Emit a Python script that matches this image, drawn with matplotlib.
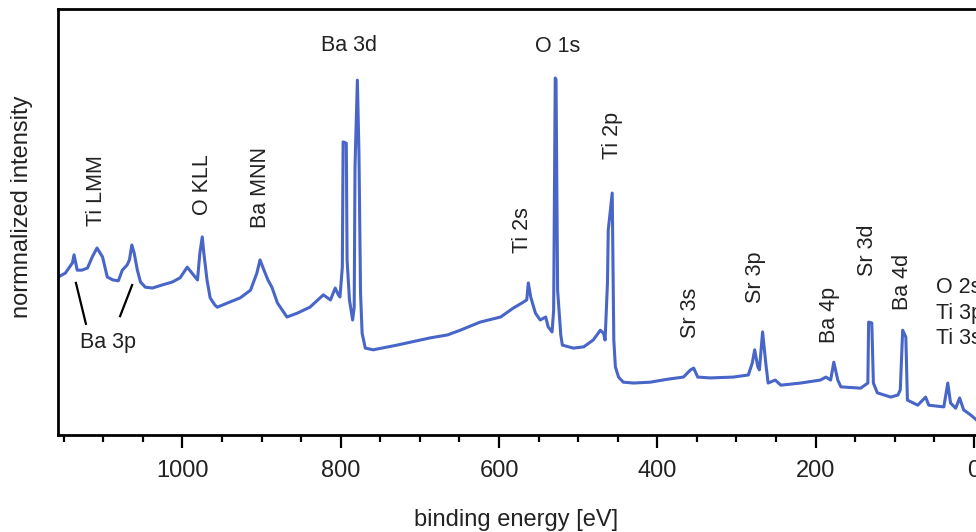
import matplotlib
matplotlib.use("Agg")
import matplotlib.pyplot as plt
from matplotlib.ticker import MultipleLocator

# survey spectrum: binding energy [eV] and intensity (0..100 = axis height)
energy = [1157, 1148, 1139, 1137, 1133, 1127, 1120, 1114, 1108, 1101, 1095, 1088, 1081,
          1076, 1070, 1067, 1064, 1061, 1057, 1053, 1047, 1038, 1026, 1013, 1003, 994,
          988, 981, 978, 975, 973, 969, 965, 959, 956, 943, 927, 914, 906, 902, 897, 892,
          887, 880, 868, 855, 839, 822, 813, 807, 803, 801, 798, 797, 793, 792, 789, 785,
          783, 782, 779, 777, 775, 773, 769, 759, 729, 687, 665, 649, 624, 598, 582, 571,
          565, 563, 560, 554, 548, 541, 538, 533, 531, 529, 528, 526, 522, 520, 506, 493,
          481, 472, 468, 466, 463, 462, 457, 455, 453, 449, 443, 430, 409, 387, 367, 358,
          354, 349, 333, 304, 285, 280, 277, 273, 271, 267, 263, 260, 251, 244, 219, 194,
          187, 181, 177, 172, 168, 143, 134, 133, 129, 127, 122, 105, 96, 93, 90, 86, 84,
          71, 61, 57, 38, 33, 29.5, 23, 18, 13, 4, -3.4]
intensity = [37.1, 38.0, 40.4, 42.3, 38.7, 38.7, 39.2, 41.8, 43.9, 41.8, 37.1, 36.4, 36.2,
             38.7, 39.9, 41.1, 44.6, 42.7, 38.7, 35.9, 34.7, 34.5, 35.2, 35.9, 36.9, 39.4,
             38.0, 36.4, 42.7, 46.5, 42.7, 36.4, 32.2, 30.5, 30.0, 31.0, 32.2, 34.0, 38.0,
             41.1, 38.7, 36.4, 34.7, 31.0, 27.7, 28.6, 30.0, 32.9, 31.7, 34.5, 32.9, 32.4,
             39.4, 68.8, 68.5, 41.1, 31.7, 27.0, 30.0, 62.9, 83.3, 66.2, 33.3, 23.9, 20.4,
             20.0, 21.1, 22.8, 23.5, 24.6, 26.5, 27.7, 29.8, 31.0, 31.7, 35.7, 32.4, 28.6,
             27.0, 27.7, 25.4, 24.2, 29.3, 83.8, 83.5, 34.0, 23.5, 21.1, 20.4, 20.7, 22.3,
             24.6, 23.9, 22.3, 35.7, 48.1, 56.8, 22.3, 16.0, 13.6, 12.4, 12.2, 12.4, 13.1,
             13.6, 15.3, 15.7, 13.6, 13.4, 13.6, 14.1, 16.9, 20.0, 16.0, 15.3, 24.2, 16.9,
             12.2, 12.9, 11.7, 12.2, 12.9, 13.6, 12.9, 17.1, 12.9, 11.3, 11.0, 12.2, 26.5,
             26.3, 12.2, 9.9, 8.9, 9.4, 10.6, 24.6, 23.0, 8.2, 7.0, 8.9, 7.0, 6.6, 12.2,
             7.5, 6.3, 8.7, 5.9, 4.7, 3.5]

# peak labels: text, energy, height, rotation
peak_names = ["Ti LMM", "O KLL", "Ba MNN", "Ba 3d", "O 1s", "Ti 2s", "Ti 2p",
              "Sr 3s", "Sr 3p", "Ba 4p", "Sr 3d", "Ba 4d"]
peak_x = [1108, 975, 902, 789, 526, 570.5, 457, 358, 276, 182, 134.5, 90]
peak_y = [57.3, 58.9, 58.2, 91.5, 91.3, 48.1, 70.4, 28.6, 37.1, 28.2, 43.4, 35.9]
peak_rot = [90, 90, 90, 0, 0, 90, 90, 90, 90, 90, 90, 90]

fig = plt.figure(figsize=(9.76, 5.32), dpi=100)
ax = fig.add_axes([0.0594, 0.1823, 0.9425, 0.8008])

ax.plot(energy, intensity, color="#4865c8", linewidth=2.2)

ax.set_xlim(1157.3, -5)
ax.set_ylim(0, 100)

txt = dict(fontsize=15.5, color="#222222", family="Liberation Sans")
for name, x, y, r in zip(peak_names, peak_x, peak_y, peak_rot):
    ax.text(x, y, name, rotation=r, ha="center", va="center", **txt)

ax.text(48.4, 28.6, "O 2s\nTi 3p\nTi 3s", ha="left", va="center", linespacing=1.3, **txt)

# Ba 3p with two leader lines
ax.text(1094, 21.6, "Ba 3p", ha="center", va="center", **txt)
ax.plot([1134.6, 1122], [35.7, 26.1], color="black", linewidth=1.6)
ax.plot([1063.6, 1078.8], [35.2, 27.9], color="black", linewidth=1.6)

ax.xaxis.set_major_locator(MultipleLocator(200))
ax.xaxis.set_minor_locator(MultipleLocator(50))
ax.tick_params(axis="x", which="major", direction="out", length=9, width=1.6,
               labelsize=17, pad=9, colors="black")
ax.tick_params(axis="x", which="minor", direction="out", length=5, width=1.6)
for lab in ax.get_xticklabels():
    lab.set_family("Liberation Sans")
    lab.set_color("#222222")
ax.set_yticks([])

for s in ax.spines.values():
    s.set_linewidth(2)

ax.set_xlabel("binding energy [eV]", fontsize=17, color="#222222", family="Liberation Sans",
              va="center")
ax.xaxis.set_label_coords(0.4975, -0.2)
ax.set_ylabel("normnalized intensity", fontsize=17, color="#222222", family="Liberation Sans",
              va="center")
ax.yaxis.set_label_coords(-0.039, 0.535)

plt.savefig("out.png", dpi=100)
plt.close()
